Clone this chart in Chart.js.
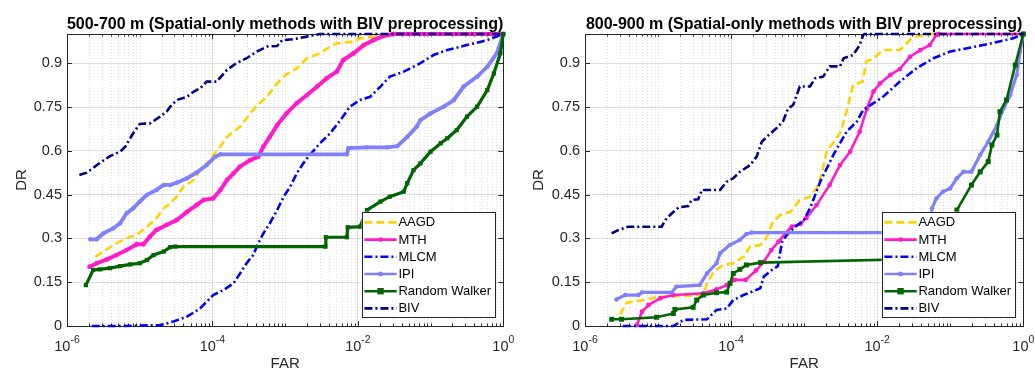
<!DOCTYPE html>
<html>
<head>
<meta charset="utf-8">
<script src="https://cdn.jsdelivr.net/npm/chart.js@4.4.1/dist/chart.umd.min.js"></script>
<style>
  html, body { margin: 0; padding: 0; background: #fff; }
  #wrap { position: relative; width: 1035px; height: 372px; overflow: hidden; }
  .panel { position: absolute; top: 0; height: 372px; }
  canvas { display: block; }
</style>
</head>
<body>
<div id="wrap">
  <div class="panel" style="left:0;width:517px"><canvas id="c1" width="517" height="372"></canvas></div>
  <div class="panel" style="left:517px;width:518px"><canvas id="c2" width="518" height="372"></canvas></div>
</div>
<script>
"use strict";

const seriesNames = ["AAGD", "MTH", "MLCM", "IPI", "Random Walker", "BIV"];
const titles = [
  "500-700 m (Spatial-only methods with BIV preprocessing)",
  "800-900 m (Spatial-only methods with BIV preprocessing)"
];
const yTicks = [0, 0.15, 0.3, 0.45, 0.6, 0.75, 0.9];
const xDecades = [-6, -5, -4, -3, -2, -1, 0];
const xLabelExps = [-6, -4, -2, 0];

// points are [log10(FAR), DR]
// 500-700 m
const aagd1 = [[-5.61,.237],[-5.50,.255],[-5.36,.277],[-5.23,.295],[-5.13,.306],[-5.04,.312],[-4.90,.340],[-4.77,.369],[-4.67,.403],[-4.58,.420],[-4.49,.443],[-4.40,.477],[-4.26,.5],[-4.17,.534],[-4.08,.557],[-3.99,.585],[-3.89,.615],[-3.80,.648],[-3.62,.683],[-3.48,.728],[-3.39,.755],[-3.25,.785],[-3.11,.831],[-2.98,.862],[-2.84,.882],[-2.70,.917],[-2.52,.934],[-2.38,.957],[-2.29,.968],[-2.06,.974],[-1.97,.985],[-1.785,.991],[-1.60,1],[0,1]];
const mth1 = [[-5.69,.203],[-5.59,.215],[-5.45,.228],[-5.32,.243],[-5.18,.26],[-5.04,.28],[-4.95,.28],[-4.86,.306],[-4.77,.329],[-4.63,.346],[-4.49,.363],[-4.35,.391],[-4.22,.414],[-4.12,.432],[-3.99,.437],[-3.89,.466],[-3.80,.5],[-3.71,.523],[-3.62,.546],[-3.48,.568],[-3.37,.58],[-3.30,.614],[-3.21,.648],[-3.11,.688],[-2.98,.728],[-2.84,.763],[-2.70,.791],[-2.56,.82],[-2.43,.848],[-2.29,.871],[-2.20,.911],[-2.06,.934],[-1.92,.962],[-1.785,.979],[-1.65,.993],[-1.51,1],[0,1]];
const mlcm1 = [[-5.66,0],[-5.2,0],[-4.9,.002],[-4.72,.003],[-4.54,.015],[-4.35,.032],[-4.17,.06],[-4.08,.083],[-3.99,.106],[-3.85,.123],[-3.71,.146],[-3.62,.18],[-3.53,.215],[-3.44,.243],[-3.37,.283],[-3.30,.317],[-3.21,.352],[-3.11,.397],[-3.02,.443],[-2.93,.477],[-2.84,.523],[-2.75,.557],[-2.66,.586],[-2.52,.626],[-2.38,.66],[-2.24,.705],[-2.11,.751],[-1.97,.774],[-1.83,.785],[-1.69,.82],[-1.56,.854],[-1.37,.871],[-1.14,.9],[-0.96,.928],[-0.77,.945],[-0.50,.962],[-0.22,.979],[0,1]];
const ipi1 = [[-5.68,.297],[-5.59,.297],[-5.50,.317],[-5.36,.335],[-5.27,.352],[-5.18,.386],[-5.09,.403],[-5.0,.426],[-4.90,.449],[-4.77,.466],[-4.67,.483],[-4.58,.483],[-4.49,.491],[-4.35,.506],[-4.22,.525],[-4.08,.551],[-3.96,.58],[-3.89,.588],[-2.15,.588],[-2.13,.609],[-1.875,.612],[-1.60,.612],[-1.46,.616],[-1.32,.648],[-1.19,.683],[-1.14,.705],[-1.0,.728],[-0.82,.751],[-0.68,.774],[-0.545,.82],[-0.36,.854],[-0.22,.888],[-0.09,.934],[0,1]];
const rw1 = [[-5.74,.14],[-5.64,.192],[-5.55,.194],[-5.41,.198],[-5.27,.205],[-5.13,.211],[-5.0,.215],[-4.90,.226],[-4.81,.243],[-4.67,.255],[-4.58,.27],[-4.51,.272],[-2.45,.272],[-2.44,.304],[-2.15,.304],[-2.14,.338],[-1.97,.34],[-1.875,.397],[-1.69,.426],[-1.56,.443],[-1.37,.46],[-1.32,.489],[-1.235,.534],[-1.14,.557],[-1.0,.597],[-0.86,.626],[-0.77,.643],[-0.64,.671],[-0.50,.717],[-0.36,.751],[-0.22,.808],[-0.13,.865],[-0.04,.934],[0,1]];
const biv1 = [[-5.83,.517],[-5.73,.525],[-5.55,.558],[-5.41,.582],[-5.27,.597],[-5.20,.614],[-5.09,.66],[-5.0,.692],[-4.86,.694],[-4.72,.717],[-4.63,.734],[-4.58,.751],[-4.49,.774],[-4.35,.785],[-4.26,.802],[-4.17,.814],[-4.08,.837],[-3.94,.837],[-3.80,.877],[-3.67,.9],[-3.53,.917],[-3.39,.94],[-3.25,.957],[-3.11,.959],[-3.04,.979],[-2.89,.982],[-2.70,.991],[-2.52,1],[0,1]];

// 800-900 m
const aagd2 = [[-5.52,.038],[-5.50,.049],[-5.43,.08],[-5.20,.089],[-4.97,.1],[-4.38,.106],[-4.33,.146],[-4.24,.186],[-4.11,.209],[-3.97,.215],[-3.83,.237],[-3.74,.272],[-3.60,.277],[-3.52,.30],[-3.44,.35],[-3.33,.38],[-3.19,.391],[-3.06,.431],[-2.92,.443],[-2.83,.472],[-2.76,.52],[-2.69,.60],[-2.58,.635],[-2.50,.665],[-2.42,.734],[-2.33,.825],[-2.20,.837],[-2.15,.905],[-2.05,.917],[-1.92,.945],[-1.69,.945],[-1.62,.962],[-1.53,.985],[-1.44,.993],[-1.25,1],[0,1]];
const mth2 = [[-5.29,.003],[-5.22,.049],[-5.13,.072],[-4.97,.095],[-4.79,.106],[-4.38,.112],[-4.20,.125],[-4.06,.14],[-3.95,.158],[-3.80,.158],[-3.66,.19],[-3.55,.22],[-3.45,.26],[-3.35,.289],[-3.26,.317],[-3.17,.34],[-3.05,.35],[-2.97,.37],[-2.83,.414],[-2.65,.483],[-2.51,.551],[-2.37,.597],[-2.24,.665],[-2.14,.745],[-2.05,.803],[-1.96,.831],[-1.82,.86],[-1.69,.88],[-1.55,.922],[-1.41,.945],[-1.28,.962],[-1.19,.997],[-1.16,1],[0,1]];
const mlcm2 = [[-5.48,0],[-4.79,0],[-4.65,.021],[-4.33,.023],[-4.20,.055],[-4.06,.06],[-3.97,.089],[-3.83,.106],[-3.60,.129],[-3.55,.17],[-3.45,.19],[-3.36,.205],[-3.33,.25],[-3.30,.29],[-3.22,.317],[-3.12,.34],[-3.01,.36],[-2.92,.403],[-2.78,.494],[-2.60,.586],[-2.42,.665],[-2.28,.70],[-2.19,.74],[-2.05,.763],[-1.92,.785],[-1.69,.837],[-1.46,.883],[-1.23,.917],[-1.0,.94],[-0.55,.962],[-0.14,.985],[0,1]];
const ipi2 = [[-5.57,.091],[-5.45,.106],[-5.27,.106],[-5.22,.115],[-4.81,.115],[-4.75,.135],[-4.43,.14],[-4.33,.18],[-4.20,.215],[-4.15,.249],[-4.02,.277],[-3.88,.295],[-3.79,.315],[-3.72,.32],[-1.30,.32],[-1.27,.36],[-1.25,.403],[-1.19,.437],[-1.10,.46],[-1.0,.471],[-0.91,.506],[-0.82,.528],[-0.71,.528],[-0.59,.586],[-0.48,.631],[-0.36,.688],[-0.27,.745],[-0.18,.791],[-0.09,.86],[-0.045,.94],[0,1]];
const rw2 = [[-5.635,.023],[-5.50,.023],[-5.02,.03],[-4.79,.043],[-4.77,.057],[-4.52,.064],[-4.47,.089],[-4.38,.106],[-4.20,.114],[-4.06,.116],[-4.015,.146],[-3.97,.18],[-3.88,.194],[-3.79,.209],[-3.60,.217],[-1.0,.232],[-0.95,.33],[-0.91,.397],[-0.71,.483],[-0.59,.528],[-0.48,.563],[-0.43,.62],[-0.36,.654],[-0.32,.734],[-0.23,.774],[-0.11,.894],[0,1]];
const biv2 = [[-5.635,.317],[-5.54,.329],[-5.41,.34],[-4.95,.34],[-4.90,.363],[-4.81,.386],[-4.72,.406],[-4.585,.411],[-4.54,.432],[-4.45,.434],[-4.40,.466],[-4.15,.466],[-4.06,.494],[-3.97,.506],[-3.88,.528],[-3.74,.551],[-3.65,.58],[-3.58,.631],[-3.51,.648],[-3.38,.677],[-3.29,.70],[-3.22,.745],[-3.15,.757],[-3.06,.82],[-2.92,.82],[-2.85,.848],[-2.74,.854],[-2.65,.889],[-2.51,.889],[-2.46,.917],[-2.33,.928],[-2.24,.962],[-2.19,.997],[-2.17,1],[0,1]];

const styles = [
  { color: "#FFD200", dash: [8, 4], marker: null, lw: [2.6, 2.6] },
  { color: "#FF1CC8", dash: [], marker: "circle", ms: [2.4, 2.4], lw: [4, 2.6] },
  { color: "#0000FF", dash: [8, 3, 2, 3], marker: null, lw: [2.6, 2.6] },
  { color: "#8080FF", dash: [], marker: "circle", ms: [2.2, 2.2], lw: [3.8, 3.2] },
  { color: "#006400", dash: [], marker: "rect", ms: [3, 3.5], lw: [3.2, 2.6] },
  { color: "#000080", dash: [8, 3, 2, 3], marker: null, lw: [2.6, 2.6] }
];

const FONT = '"Liberation Sans", Arial, Helvetica, sans-serif';
const AXIS_COLOR = "#262626";

Chart.defaults.font.family = FONT;
Chart.defaults.animation = false;

function isDecade(v) {
  const e = Math.log10(v);
  return Math.abs(e - Math.round(e)) < 1e-9;
}

function isMajor(v) {
  return isDecade(v) && Math.round(Math.log10(v)) % 2 === 0;
}

function drawMarker(ctx, kind, x, y, r, color) {
  ctx.fillStyle = color;
  ctx.beginPath();
  if (kind === "rect") {
    ctx.rect(x - r, y - r, 2 * r, 2 * r);
  } else {
    ctx.arc(x, y, r, 0, Math.PI * 2);
  }
  ctx.fill();
}

const matlabAxes = {
  id: "matlabAxes",
  beforeDatasetsDraw(chart) {
    const { ctx, chartArea: a, scales: { x, y } } = chart;
    ctx.save();

    // dotted minor grid
    ctx.strokeStyle = "rgba(0,0,0,0.13)";
    ctx.lineWidth = 1;
    ctx.setLineDash([1, 2]);
    x.ticks.forEach(t => {
      if (isMajor(t.value)) return;
      const px = Math.round(x.getPixelForValue(t.value)) + 0.5;
      ctx.beginPath();
      ctx.moveTo(px, a.top);
      ctx.lineTo(px, a.bottom);
      ctx.stroke();
    });
    ctx.setLineDash([]);

    // box
    ctx.strokeStyle = AXIS_COLOR;
    ctx.lineWidth = 1;
    ctx.strokeRect(Math.round(a.left) + 0.5, Math.round(a.top) + 0.5,
      Math.round(a.right - a.left), Math.round(a.bottom - a.top));

    // inward tick marks
    ctx.beginPath();
    x.ticks.forEach(t => {
      const px = Math.round(x.getPixelForValue(t.value)) + 0.5;
      const len = isMajor(t.value) ? 5 : 2.5;
      ctx.moveTo(px, a.bottom);
      ctx.lineTo(px, a.bottom - len);
      ctx.moveTo(px, a.top);
      ctx.lineTo(px, a.top + len);
    });
    yTicks.forEach(v => {
      const py = Math.round(y.getPixelForValue(v)) + 0.5;
      ctx.moveTo(a.left, py);
      ctx.lineTo(a.left + 5, py);
      ctx.moveTo(a.right, py);
      ctx.lineTo(a.right - 5, py);
    });
    ctx.stroke();
    ctx.restore();
  },
  afterDraw(chart) {
    const { ctx, chartArea: a, scales: { x } } = chart;
    const opts = chart.options.plugins.matlabAxes;
    ctx.save();

    // title
    ctx.fillStyle = "#000";
    ctx.font = "bold 16px " + FONT;
    ctx.textAlign = "center";
    ctx.textBaseline = "alphabetic";
    ctx.fillText(opts.title, (a.left + a.right) / 2, 29);

    // x tick labels 10^n
    ctx.fillStyle = AXIS_COLOR;
    ctx.textAlign = "left";
    xLabelExps.forEach(e => {
      const px = x.getPixelForValue(Math.pow(10, e));
      const exp = e === 0 ? "0" : "-" + Math.abs(e);
      ctx.font = "14.5px " + FONT;
      const w1 = ctx.measureText("10").width;
      ctx.font = "10.5px " + FONT;
      const w2 = ctx.measureText(exp).width;
      const x0 = px - (w1 + w2) / 2;
      ctx.font = "14.5px " + FONT;
      ctx.fillText("10", x0, a.bottom + 25);
      ctx.font = "10.5px " + FONT;
      ctx.fillText(exp, x0 + w1, a.bottom + 17);
    });

    // legend
    const lw = 133.3, lh = 105;
    const lx = a.right - 8.3 - lw;
    const ly = a.bottom - 9.3 - lh;
    ctx.fillStyle = "#fff";
    ctx.fillRect(lx, ly, lw, lh);
    ctx.strokeStyle = AXIS_COLOR;
    ctx.lineWidth = 1;
    ctx.strokeRect(Math.round(lx) + 0.5, Math.round(ly) + 0.5, Math.round(lw), Math.round(lh));
    ctx.font = "13px " + FONT;
    ctx.textBaseline = "middle";
    seriesNames.forEach((name, i) => {
      const st = styles[i];
      const yy = ly + 10.7 + i * 17.2;
      const x0 = lx + 2.7, x1 = lx + 35;
      ctx.strokeStyle = st.color;
      ctx.lineWidth = 2.6;
      ctx.setLineDash(st.dash);
      ctx.beginPath();
      ctx.moveTo(x0, yy);
      ctx.lineTo(x1, yy);
      ctx.stroke();
      ctx.setLineDash([]);
      if (st.marker) {
        drawMarker(ctx, st.marker, (x0 + x1) / 2, yy, st.marker === "rect" ? 3.2 : 2.4, st.color);
      }
      ctx.fillStyle = "#000";
      ctx.fillText(name, lx + 36.7, yy + 0.5);
    });
    ctx.restore();
  }
};

function makeChart(id, title, series, panel, yWidth, padRight) {
  const datasets = series.map((pts, i) => {
    const st = styles[i];
    return {
      label: seriesNames[i],
      data: pts.map(p => ({ x: Math.pow(10, p[0]), y: p[1] })),
      borderColor: st.color,
      backgroundColor: st.color,
      borderWidth: st.lw[panel],
      borderDash: st.dash,
      pointStyle: st.marker || "circle",
      pointRadius: st.marker ? st.ms[panel] : 0,
      pointBorderWidth: 0,
      pointBackgroundColor: st.color,
      pointHoverRadius: 0,
      tension: 0,
      clip: false,
      order: series.length - i
    };
  });

  return new Chart(document.getElementById(id).getContext("2d"), {
    type: "line",
    data: { datasets: datasets },
    options: {
      responsive: false,
      animation: false,
      events: [],
      layout: { padding: { top: 34, right: padRight, bottom: 0, left: 0 } },
      plugins: {
        legend: { display: false },
        tooltip: { enabled: false },
        title: { display: false },
        matlabAxes: { title: title }
      },
      scales: {
        x: {
          type: "logarithmic",
          min: 1e-6,
          max: 1,
          afterBuildTicks: s => {
            const t = [];
            xDecades.forEach(d => {
              for (let m = 1; m <= 9; m++) {
                const v = m * Math.pow(10, d);
                if (v <= 1 + 1e-12) t.push({ value: v });
              }
            });
            s.ticks = t;
          },
          afterFit: s => { s.height = 46; },
          ticks: { display: false },
          grid: {
            drawTicks: false,
            color: c => (c.tick && isMajor(c.tick.value)) ? "#dedede" : "rgba(0,0,0,0)"
          },
          border: { display: false },
          title: {
            display: true,
            text: "FAR",
            color: AXIS_COLOR,
            font: { size: 15 },
            padding: { top: 0, bottom: -1 }
          }
        },
        y: {
          type: "linear",
          min: 0,
          max: 1,
          afterBuildTicks: s => { s.ticks = yTicks.map(v => ({ value: v })); },
          afterFit: s => { s.width = yWidth; },
          ticks: {
            autoSkip: false,
            padding: 5,
            color: AXIS_COLOR,
            font: { size: 14.5 },
            callback: v => String(v)
          },
          grid: { drawTicks: false, color: "#dedede" },
          border: { display: false },
          title: {
            display: true,
            text: "DR",
            color: AXIS_COLOR,
            font: { size: 15 },
            padding: { top: 13, bottom: 0 }
          }
        }
      }
    },
    plugins: [matlabAxes]
  });
}

makeChart("c1", titles[0], [aagd1, mth1, mlcm1, ipi1, rw1, biv1], 0, 67, 13.7);
makeChart("c2", titles[1], [aagd2, mth2, mlcm2, ipi2, rw2, biv2], 1, 68, 11.7);
</script>
</body>
</html>
